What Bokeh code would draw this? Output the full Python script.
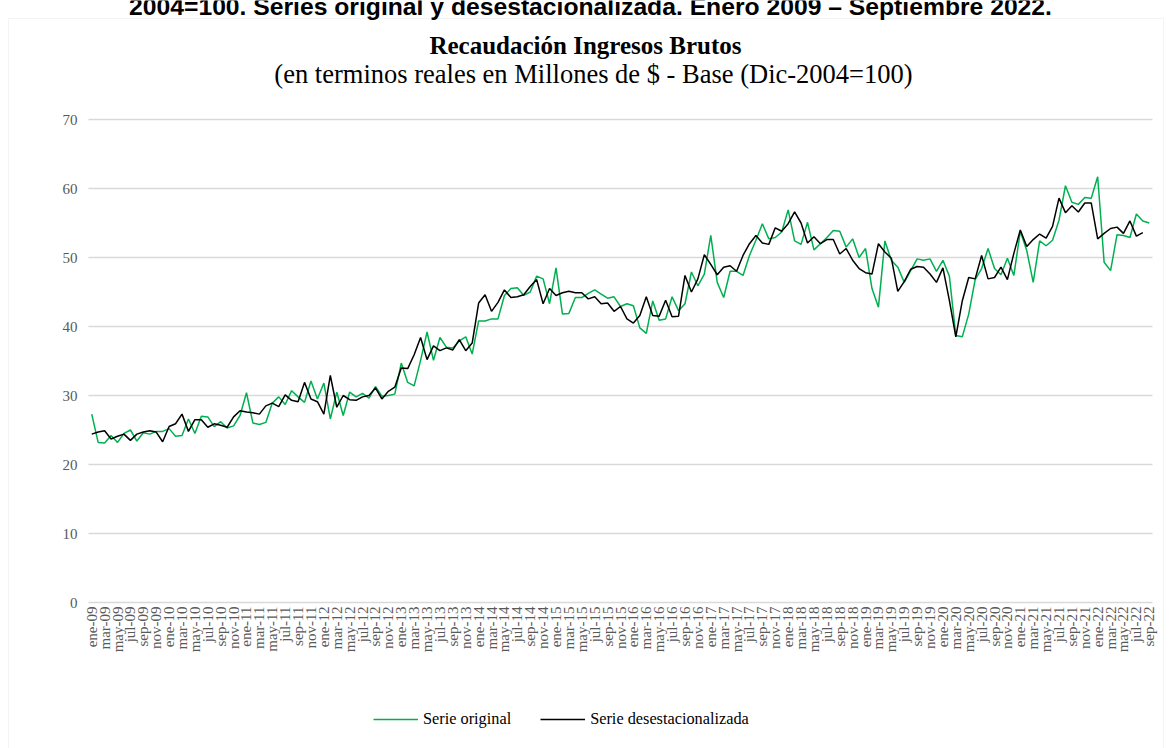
from bokeh.plotting import figure
from bokeh.models import Range1d, FixedTicker, Label, Legend, LegendItem, BoxAnnotation
from bokeh.embed import file_html
from bokeh.resources import INLINE
import math

# ---------------- data ----------------
month_names = ["ene", "feb", "mar", "abr", "may", "jun", "jul", "ago", "sep", "oct", "nov", "dic"]
years = list(range(2009, 2023))
categories = [f"{m}-{str(y)[2:]}" for y in years for m in month_names][:165]  # ene-09 ... sep-22

serie_original = [
    27.3, 23.2, 23.1, 24.2, 23.2, 24.5, 25.0, 23.4, 24.6, 24.4, 24.8, 24.8,   # 2009
    25.2, 24.1, 24.2, 26.6, 24.5, 27.0, 26.9, 25.5, 26.2, 25.3, 25.6, 27.1,   # 2010
    30.4, 26.0, 25.8, 26.1, 28.9, 29.8, 28.7, 30.7, 29.8, 29.0, 32.1, 29.5,   # 2011
    31.8, 26.6, 30.5, 27.1, 30.5, 29.8, 30.3, 29.6, 31.3, 29.9, 30.0, 30.2,   # 2012
    34.7, 31.9, 31.4, 35.1, 39.2, 35.1, 38.4, 37.0, 36.9, 37.9, 38.5, 36.0,   # 2013
    40.8, 40.8, 41.1, 41.1, 44.5, 45.5, 45.6, 44.5, 45.0, 47.3, 46.9, 43.3,   # 2014
    48.5, 41.8, 41.9, 44.2, 44.2, 44.8, 45.3, 44.7, 44.1, 44.3, 42.9, 43.3,   # 2015
    43.0, 39.8, 39.0, 43.7, 40.9, 41.1, 44.3, 42.3, 43.3, 47.9, 45.9, 47.6,   # 2016
    53.2, 46.4, 44.2, 48.0, 48.0, 47.4, 50.3, 52.5, 54.9, 52.7, 52.9, 53.7,   # 2017
    56.9, 52.4, 51.9, 55.1, 51.1, 52.0, 52.9, 53.9, 53.8, 51.5, 52.7, 50.0,   # 2018
    51.3, 45.5, 42.8, 52.4, 49.6, 48.6, 46.4, 48.1, 49.8, 49.6, 49.8, 48.0,   # 2019
    49.6, 47.3, 38.7, 38.5, 41.8, 46.8, 48.4, 51.3, 48.4, 47.5, 49.9, 47.4,   # 2020
    53.8, 51.0, 46.4, 52.4, 51.7, 52.5, 55.4, 60.4, 58.0, 57.7, 58.7, 58.6,   # 2021
    61.7, 49.3, 48.1, 53.3, 53.2, 52.9, 56.3, 55.3, 55.0,                     # 2022
]

serie_desestacionalizada = [
    24.4, 24.7, 24.9, 23.7, 24.1, 24.4, 23.5, 24.4, 24.7, 24.9, 24.7, 23.3,   # 2009
    25.5, 25.9, 27.3, 24.8, 26.5, 26.5, 25.4, 25.9, 25.7, 25.4, 26.9, 27.8,   # 2010
    27.6, 27.5, 27.3, 28.5, 28.9, 28.4, 30.1, 29.3, 29.1, 31.9, 29.5, 29.1,   # 2011
    27.3, 32.9, 28.3, 30.0, 29.4, 29.3, 29.8, 30.0, 31.1, 29.5, 30.6, 31.2,   # 2012
    34.0, 33.9, 35.9, 38.4, 35.2, 37.2, 36.5, 36.9, 36.6, 38.1, 36.5, 37.6,   # 2013
    43.4, 44.6, 42.2, 43.5, 45.3, 44.2, 44.3, 44.6, 45.8, 46.8, 43.3, 45.5,   # 2014
    44.5, 44.9, 45.1, 44.9, 44.9, 44.0, 44.3, 43.3, 43.4, 42.2, 42.9, 41.1,   # 2015
    40.5, 41.6, 44.3, 41.6, 41.5, 43.8, 41.4, 41.5, 47.4, 45.0, 46.9, 50.4,   # 2016
    49.0, 47.5, 48.6, 48.8, 48.0, 50.3, 52.0, 53.2, 52.1, 51.9, 54.3, 53.8,   # 2017
    54.9, 56.6, 55.0, 52.1, 53.0, 52.0, 52.6, 52.6, 50.5, 51.3, 49.6, 48.4,   # 2018
    47.8, 47.6, 52.0, 50.8, 49.9, 45.1, 46.5, 48.3, 48.7, 48.6, 47.6, 46.4,   # 2019
    48.5, 43.8, 38.5, 43.7, 47.1, 46.9, 50.3, 46.9, 47.1, 48.6, 46.8, 50.6,   # 2020
    54.0, 51.6, 52.6, 53.4, 52.8, 54.5, 58.6, 56.5, 57.5, 56.6, 57.9, 57.9,   # 2021
    52.7, 53.5, 54.2, 54.4, 53.5, 55.3, 53.1, 53.6, float("nan"),             # 2022
]

y_ticks = [0, 10, 20, 30, 40, 50, 60, 70]

title_cut = "2004=100. Series original y desestacionalizada. Enero 2009 \u2013 Septiembre 2022."
title_main = "Recaudaci\u00f3n Ingresos Brutos"
title_sub = "(en terminos reales en Millones de $ - Base (Dic-2004=100)"

# ---------------- layout geometry (pixels) ----------------
W, H = 1171, 748
PLOT_L, PLOT_R, PLOT_T, PLOT_B = 88, 1152, 119, 602   # plot area inside the canvas
n = len(categories)
px_cat = (PLOT_R - PLOT_L) / n
px_unit = (PLOT_B - PLOT_T) / 70.0
x_start = -0.5 - PLOT_L / px_cat
x_end = n - 0.5 + (W - PLOT_R) / px_cat
y_start = -(H - PLOT_B) / px_unit
y_end = PLOT_B / px_unit

x_idx = list(range(n))

# the frame covers the whole canvas; axes sit at fixed data locations
p = figure(width=W, height=H, output_backend="svg", toolbar_location=None,
           x_range=Range1d(x_start, x_end), y_range=Range1d(y_start, y_end),
           min_border=0, min_border_left=0, min_border_right=0,
           min_border_top=0, min_border_bottom=0)
p.outline_line_color = None
p.background_fill_color = "white"
p.border_fill_color = "white"
p.xgrid.visible = False
p.ygrid.visible = False

# horizontal gridlines limited to the plot area
p.segment(x0=[-0.5] * len(y_ticks), x1=[n - 0.5] * len(y_ticks), y0=y_ticks, y1=y_ticks,
          line_color="#d9d9d9", line_width=1.3)

# y axis
p.yaxis.fixed_location = -0.5
p.yaxis.ticker = FixedTicker(ticks=y_ticks)
p.yaxis.axis_line_color = None
p.yaxis.major_tick_line_color = None
p.yaxis.minor_tick_line_color = None
p.yaxis.major_tick_out = 0
p.yaxis.major_tick_in = 0
p.yaxis.minor_tick_out = 0
p.yaxis.major_label_text_font = "Liberation Serif"
p.yaxis.major_label_text_font_size = "15px"
p.yaxis.major_label_text_color = "#595959"
p.yaxis.major_label_standoff = 11

# x axis
p.xaxis.fixed_location = 0
p.xaxis.ticker = FixedTicker(ticks=list(range(0, n, 2)))
p.xaxis.major_label_overrides = {i: categories[i] for i in range(0, n, 2)}
p.xaxis.major_label_orientation = math.pi / 2
p.xaxis.axis_line_color = None
p.xaxis.major_tick_line_color = None
p.xaxis.minor_tick_line_color = None
p.xaxis.major_tick_out = 0
p.xaxis.major_tick_in = 0
p.xaxis.minor_tick_out = 0
p.xaxis.major_label_text_font = "Liberation Serif"
p.xaxis.major_label_text_font_size = "15px"
p.xaxis.major_label_text_color = "#595959"
p.xaxis.major_label_standoff = 4

# lines
g = p.line(x_idx, serie_original, line_color="#00b050", line_width=1.5)
k = p.line(x_idx, serie_desestacionalizada, line_color="#000000", line_width=1.5)

# chart-area border
p.add_layout(BoxAnnotation(left=8, right=1163, top=18, bottom=H + 20,
                           left_units="canvas", right_units="canvas",
                           top_units="canvas", bottom_units="canvas",
                           fill_alpha=0, line_color="#d9d9d9", line_width=1))

# titles
p.add_layout(Label(x=590, y=6, x_units="canvas", y_units="canvas", text=title_cut,
                   text_align="center", text_baseline="alphabetic",
                   text_font="Liberation Sans", text_font_style="bold",
                   text_font_size="24.7px", text_color="#000000"))
p.add_layout(Label(x=585, y=45, x_units="canvas", y_units="canvas", text=title_main,
                   text_align="center", text_baseline="alphabetic",
                   text_font="Liberation Serif", text_font_style="bold",
                   text_font_size="25px", text_color="#000000"))
p.add_layout(Label(x=593, y=73, x_units="canvas", y_units="canvas", text=title_sub,
                   text_align="center", text_baseline="alphabetic",
                   text_font="Liberation Serif",
                   text_font_size="26.5px", text_color="#000000"))

# legend
legend = Legend(items=[LegendItem(label="Serie original", renderers=[g]),
                       LegendItem(label="Serie desestacionalizada", renderers=[k])],
                orientation="horizontal", location=(373, 19),
                border_line_color=None, background_fill_alpha=0,
                glyph_width=45, glyph_height=20, label_standoff=5, spacing=29,
                padding=0, margin=0,
                label_text_font="Liberation Serif", label_text_font_size="16.3px",
                label_text_color="#000000")
p.add_layout(legend)

open("out.html", "w").write(file_html(p, INLINE))
